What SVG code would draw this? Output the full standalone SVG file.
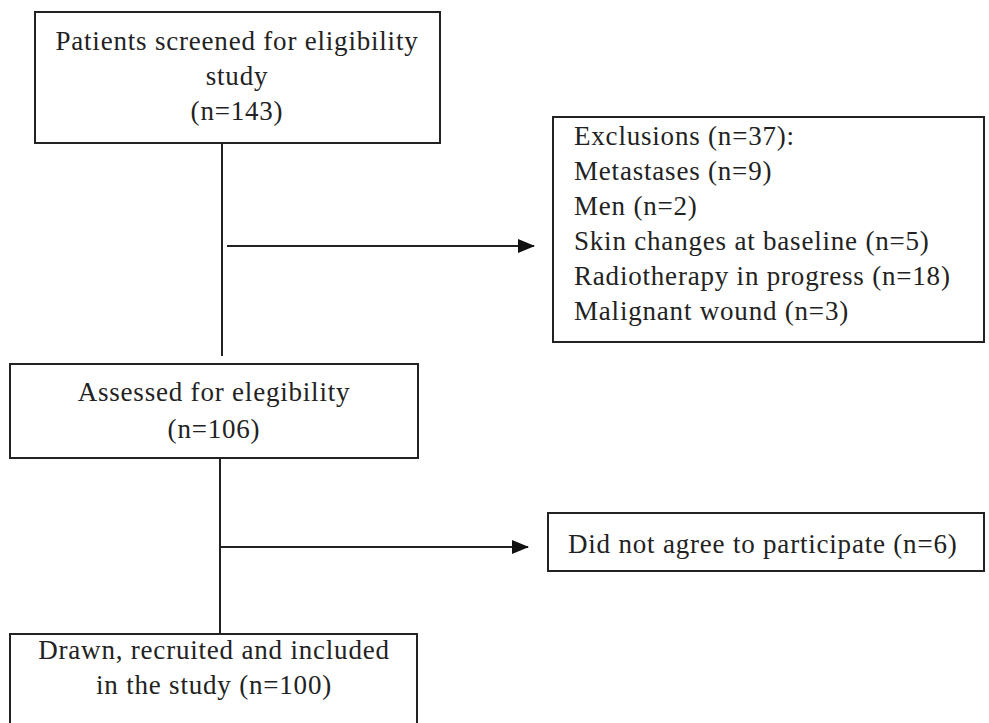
<svg xmlns="http://www.w3.org/2000/svg" width="989" height="723" viewBox="0 0 989 723">
<style>
.box{fill:#fff;stroke:#222;stroke-width:2}
.t{font-family:"Liberation Serif","Times New Roman",serif;font-size:27px;letter-spacing:0.8px;fill:#222}
.c{text-anchor:middle}
.ln{stroke:#222;stroke-width:2;fill:none}
</style>
<defs>
<marker id="ah" markerWidth="18" markerHeight="16" refX="16" refY="8" orient="auto" markerUnits="userSpaceOnUse">
<path d="M0,1 L17,8 L0,15 Z" fill="#111"/>
</marker>
</defs>
<rect width="989" height="723" fill="#fff"/>
<g id="connectors">
<line class="ln" x1="222" y1="143" x2="222" y2="356"/>
<line class="ln" x1="227" y1="246" x2="534" y2="246" marker-end="url(#ah)"/>
<line class="ln" x1="220" y1="458" x2="220" y2="634"/>
<line class="ln" x1="221" y1="547" x2="528" y2="547" marker-end="url(#ah)"/>
</g>
<g id="screened">
<rect class="box" x="35" y="12" width="405" height="131"/>
<text class="t c" x="237" y="50">Patients screened for eligibility</text>
<text class="t c" x="237" y="85">study</text>
<text class="t c" x="237" y="120">(n=143)</text>
</g>
<g id="exclusions">
<rect class="box" x="553" y="117" width="431" height="225"/>
<text class="t" x="574" y="145">Exclusions (n=37):</text>
<text class="t" x="574" y="180">Metastases (n=9)</text>
<text class="t" x="574" y="215">Men (n=2)</text>
<text class="t" x="574" y="250">Skin changes at baseline (n=5)</text>
<text class="t" x="574" y="285">Radiotherapy in progress (n=18)</text>
<text class="t" x="574" y="320">Malignant wound (n=3)</text>
</g>
<g id="assessed">
<rect class="box" x="10" y="364" width="408" height="94"/>
<text class="t c" x="214" y="401">Assessed for elegibility</text>
<text class="t c" x="214" y="438">(n=106)</text>
</g>
<g id="declined">
<rect class="box" x="548" y="513" width="436" height="58"/>
<text class="t" x="568" y="553">Did not agree to participate (n=6)</text>
</g>
<g id="included">
<rect class="box" x="10" y="634" width="407" height="100"/>
<text class="t c" x="214" y="659">Drawn, recruited and included</text>
<text class="t c" x="214" y="694">in the study (n=100)</text>
</g>
</svg>
